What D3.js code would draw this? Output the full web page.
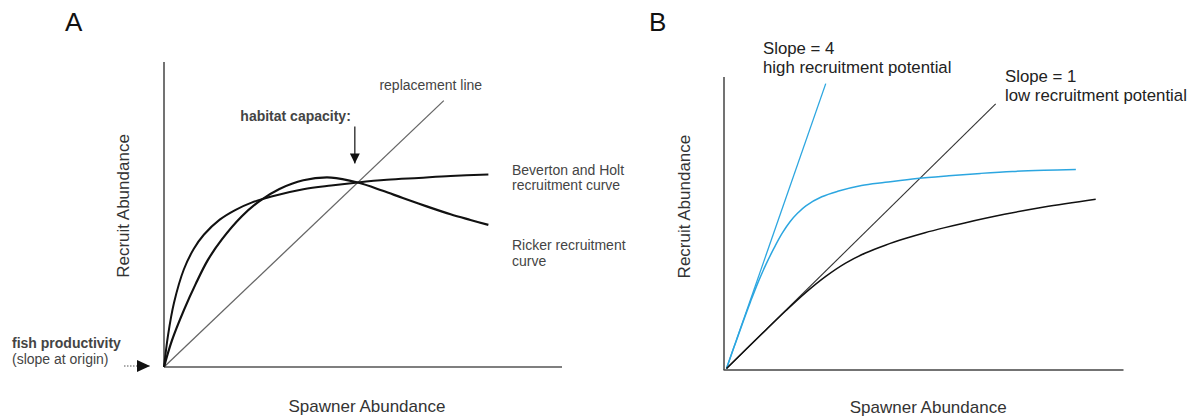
<!DOCTYPE html>
<html lang="en">
<head>
<meta charset="utf-8">
<title>Stock recruitment curves</title>
<script src="https://d3js.org/d3.v7.min.js"></script>
<style>
  body { margin: 0; background: #fff; }
  svg text { font-family: "Liberation Sans", Arial, sans-serif; }
  .panel { font-size: 26px; fill: #111; }
  .axis-title { font-size: 17px; fill: #333; }
  .note { font-size: 14px; fill: #444; }
  .note-b { font-size: 16.8px; fill: #222; }
</style>
</head>
<body>
<div id="chart"></div>
<script>
// ---- panel A data ----
var spawnA = [0, 1, 2.5, 5, 7.5, 10, 14, 18, 22, 27, 35, 42, 48.7, 56, 64, 72, 81.5];
var bevHolt = [0, 8.3, 16.9, 25.8, 31.2, 34.9, 38.9, 41.5, 43.4, 45.0, 46.9, 47.9, 48.7, 49.4, 49.9, 50.4, 50.8];
var spawnRicker = [0, 2, 5, 8, 11, 14.5, 19.5, 24, 29, 35, 42, 48.7, 55, 60, 66, 72, 77, 81.5];
var ricker = [0, 7.0, 15.0, 22.0, 28.2, 33.6, 39.7, 43.8, 47.0, 49.3, 50.0, 48.7, 46.5, 44.6, 42.4, 40.3, 38.8, 37.5];
var replacementEnd = 70.3;
var equilibrium = 48.7;

// ---- panel B data ----
var spawnHigh = [0, 2, 4, 6, 8, 10, 12, 14, 16, 18, 20, 24, 28, 34, 40, 48, 56, 64, 72, 80, 88];
var recHigh = [0, 5.8, 11.5, 17.0, 22.2, 26.8, 30.9, 34.6, 37.6, 39.9, 41.7, 44.0, 45.4, 46.9, 47.7, 48.7, 49.4, 50.0, 50.5, 50.8, 51.0];
var spawnLow = [0, 5, 10, 15, 20, 25, 30, 35, 40, 45, 50, 55, 60, 70, 80, 93];
var recLow = [0, 5.0, 9.95, 14.85, 19.5, 23.6, 27.0, 29.6, 31.6, 33.3, 34.8, 36.1, 37.3, 39.5, 41.4, 43.4];
var slope4End = [25.0, 73.0];
var slope1End = [67.8, 67.8];

var W = 1194, H = 417;
var svg = d3.select("#chart").append("svg")
  .attr("width", W).attr("height", H);

svg.append("defs").append("marker")
  .attr("id", "tri")
  .attr("viewBox", "0 0 10 10")
  .attr("refX", 10).attr("refY", 5)
  .attr("markerWidth", 10).attr("markerHeight", 10)
  .attr("markerUnits", "userSpaceOnUse")
  .attr("orient", "auto")
  .append("path").attr("d", "M0,0L10,5L0,10Z").attr("fill", "#111");

function zip(xs, ys) { return xs.map(function(v, i){ return [v, ys[i]]; }); }

// ================= Panel A =================
var xA = d3.scaleLinear().domain([0, 100]).range([164, 562]);
var yA = d3.scaleLinear().domain([0, 80.5]).range([367, 62]);
var gA = svg.append("g");

var lineA = d3.line()
  .x(function(d){ return xA(d[0]); })
  .y(function(d){ return yA(d[1]); })
  .curve(d3.curveCatmullRom.alpha(0.5));

// axes
gA.append("line").attr("x1", xA(0)).attr("x2", xA(0)).attr("y1", yA.range()[1]).attr("y2", yA(0))
  .attr("stroke", "#444").attr("stroke-width", 1.5);
gA.append("line").attr("x1", xA(0)).attr("x2", xA.range()[1]).attr("y1", yA(0)).attr("y2", yA(0))
  .attr("stroke", "#555").attr("stroke-width", 1.6);

// replacement line
gA.append("path").datum([[0, 0], [replacementEnd, replacementEnd]])
  .attr("d", lineA).attr("fill", "none").attr("stroke", "#666").attr("stroke-width", 1.3);

gA.append("path").datum(zip(spawnA, bevHolt))
  .attr("d", lineA).attr("fill", "none").attr("stroke", "#111").attr("stroke-width", 2);
gA.append("path").datum(zip(spawnRicker, ricker))
  .attr("d", lineA).attr("fill", "none").attr("stroke", "#111").attr("stroke-width", 2.2);

// habitat capacity arrow
var ax = xA(equilibrium) - 3;
gA.append("line").attr("x1", ax).attr("x2", ax).attr("y1", yA(equilibrium) - 56).attr("y2", yA(equilibrium) - 19)
  .attr("stroke", "#222").attr("stroke-width", 1.3).attr("marker-end", "url(#tri)");
gA.append("text").attr("class", "note").attr("x", ax - 4).attr("y", yA(equilibrium) - 61)
  .attr("text-anchor", "end").attr("font-weight", "bold").attr("fill", "#333").text("habitat capacity:");

gA.append("text").attr("class", "note").attr("x", xA(replacementEnd) - 13).attr("y", yA(replacementEnd) - 11)
  .attr("text-anchor", "middle").text("replacement line");

gA.append("text").attr("class", "note").attr("x", 512).attr("y", 175).text("Beverton and Holt");
gA.append("text").attr("class", "note").attr("x", 512).attr("y", 190).text("recruitment curve");
gA.append("text").attr("class", "note").attr("x", 512).attr("y", 250).text("Ricker recruitment");
gA.append("text").attr("class", "note").attr("x", 512).attr("y", 266).text("curve");

// fish productivity arrow
gA.append("line").attr("x1", xA(0) - 40).attr("x2", xA(0) - 14).attr("y1", yA(0) - 1).attr("y2", yA(0) - 1)
  .attr("stroke", "#555").attr("stroke-width", 1).attr("stroke-dasharray", "1.5,1.5");
gA.append("path")
  .attr("d", "M" + (xA(0) - 27) + "," + (yA(0) - 7) + "L" + (xA(0) - 14) + "," + (yA(0) - 1) + "L" + (xA(0) - 27) + "," + (yA(0) + 5) + "Z")
  .attr("fill", "#111");
gA.append("text").attr("class", "note").attr("x", 12).attr("y", 348).attr("font-weight", "bold").attr("fill", "#333").text("fish productivity");
gA.append("text").attr("class", "note").attr("x", 12).attr("y", 364).text("(slope at origin)");

gA.append("text").attr("class", "axis-title").attr("x", xA(51)).attr("y", 412)
  .attr("text-anchor", "middle").text("Spawner Abundance");
gA.append("text").attr("class", "axis-title")
  .attr("transform", "translate(129," + yA(42.5) + ") rotate(-90)")
  .attr("text-anchor", "middle").text("Recruit Abundance");
gA.append("text").attr("class", "panel").attr("x", 65).attr("y", 31).text("A");

// ================= Panel B =================
var xB = d3.scaleLinear().domain([0, 100]).range([726.5, 1123.5]);
var yB = d3.scaleLinear().domain([0, 74.7]).range([368.5, 77]);
var gB = svg.append("g");
var blue = "#2ca6e0";

var lineB = d3.line()
  .x(function(d){ return xB(d[0]); })
  .y(function(d){ return yB(d[1]); })
  .curve(d3.curveCatmullRom.alpha(0.5));

gB.append("line").attr("x1", xB(0) - 2.5).attr("x2", xB(0) - 2.5).attr("y1", yB.range()[1]).attr("y2", yB(0) + 1.5)
  .attr("stroke", "#444").attr("stroke-width", 1.5);
gB.append("line").attr("x1", xB(0) - 3).attr("x2", xB.range()[1]).attr("y1", yB(0) + 1.5).attr("y2", yB(0) + 1.5)
  .attr("stroke", "#444").attr("stroke-width", 1.6);

gB.append("path").datum([[0, 0], slope4End])
  .attr("d", lineB).attr("fill", "none").attr("stroke", blue).attr("stroke-width", 1.3);
gB.append("path").datum([[0, 0], slope1End])
  .attr("d", lineB).attr("fill", "none").attr("stroke", "#333").attr("stroke-width", 1.1);
gB.append("path").datum(zip(spawnHigh, recHigh))
  .attr("d", lineB).attr("fill", "none").attr("stroke", blue).attr("stroke-width", 1.5);
gB.append("path").datum(zip(spawnLow, recLow))
  .attr("d", lineB).attr("fill", "none").attr("stroke", "#111").attr("stroke-width", 1.5);

gB.append("text").attr("class", "note-b").attr("x", 763).attr("y", 54).text("Slope = 4");
gB.append("text").attr("class", "note-b").attr("x", 763).attr("y", 73).text("high recruitment potential");
gB.append("text").attr("class", "note-b").attr("x", 1005).attr("y", 82).text("Slope = 1");
gB.append("text").attr("class", "note-b").attr("x", 1005).attr("y", 101).text("low recruitment potential");

gB.append("text").attr("class", "axis-title").attr("x", xB(50.8)).attr("y", 413)
  .attr("text-anchor", "middle").text("Spawner Abundance");
gB.append("text").attr("class", "axis-title")
  .attr("transform", "translate(690," + yB(41.5) + ") rotate(-90)")
  .attr("text-anchor", "middle").text("Recruit Abundance");
gB.append("text").attr("class", "panel").attr("x", 649).attr("y", 31).text("B");
</script>
</body>
</html>
